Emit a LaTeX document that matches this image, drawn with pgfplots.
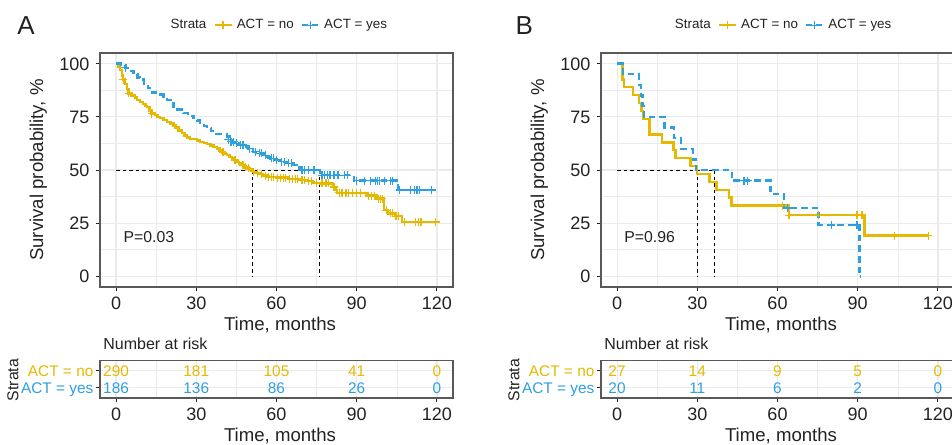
\documentclass[border=0pt]{standalone}
\usepackage{fontspec}
\setmainfont{Liberation Sans}
\usepackage{pgfplots}
\pgfplotsset{compat=1.18}

\definecolor{actno}{HTML}{E7B800}
\definecolor{actyes}{HTML}{2E9FDF}
\definecolor{gridc}{HTML}{EBEBEB}
\definecolor{framec}{HTML}{595959}
\definecolor{txtc}{HTML}{222222}

\pgfplotsset{
  kmbase/.style={
    scale only axis, width=176.5pt,
    xmin=-6, xmax=126, xtick={0,30,...,120}, minor xtick={15,45,75,105},
    grid=both,
    major grid style={gridc, line width=0.55pt},
    minor grid style={gridc, line width=0.3pt},
    axis line style={framec, line width=0.6pt},
    tick align=outside, tick pos=left,
    major tick length=2.2pt, minor tick length=0pt,
    tick style={txtc, line width=0.5pt},
    /pgf/number format/assume math mode=true,
    ticklabel style={font=\fontsize{9}{10}\selectfont, text=txtc, inner sep=0pt},
    xticklabel style={anchor=base, yshift=-9pt},
    label style={font=\fontsize{9.3}{11}\selectfont, text=txtc},
    xlabel={Time, months},
    every axis title shift=0pt,
  },
  km/.style={
    kmbase, height=117pt,
    ymin=-5, ymax=105, ytick={0,25,...,100}, minor ytick={12.5,37.5,62.5,87.5},
    yticklabel style={anchor=base east, xshift=-2.9pt, yshift=-3.2pt},
    ylabel={Survival probability, \%},
    ylabel style={at={(axis description cs:-0.1748,0.5)}, anchor=center},
    xlabel style={at={(axis description cs:0.51,-0.1624)}, anchor=center},
    legend style={draw=none, fill=none, anchor=west, inner sep=0pt,
      font=\fontsize{6.7}{8}\selectfont, text=txtc,
      /tikz/every even column/.append style={column sep=1.5pt}},
    legend columns=-1, legend cell align=left,
  },
  risk/.style={
    kmbase, height=18.65pt,
    ymin=0.4, ymax=2.6, ytick={1,2}, minor ytick={},
    yticklabels={\textcolor{actyes}{ACT = yes}, \textcolor{actno}{ACT = no}},
    yticklabel style={anchor=base east, xshift=-0.9pt, yshift=-2.75pt,
      font=\fontsize{7.7}{9}\selectfont},
    ylabel={Strata},
    ylabel style={at={(axis description cs:-0.2465,0.48)}, anchor=center,
      font=\fontsize{7.9}{9}\selectfont},
    xlabel style={at={(axis description cs:0.51,-1.019)}, anchor=center},
    title={Number at risk},
    title style={at={(axis description cs:0,1)}, anchor=base west, inner sep=0pt,
      xshift=1.5pt, yshift=5.5pt, font=\fontsize{8}{9}\selectfont, text=txtc},
  },
  noline/.style={actno, line width=1.2pt, const plot, forget plot},
  yesline/.style={actyes, line width=1.2pt, dash pattern=on 3.3pt off 2pt, const plot, forget plot},
  nocens/.style={only marks, mark=+, actno, mark size=2pt, line width=0.6pt, forget plot},
  yescens/.style={only marks, mark=+, actyes, mark size=2pt, line width=0.6pt, forget plot},
  mline/.style={black, line width=0.45pt, dash pattern=on 1.8pt off 1.5pt, forget plot},
  keyline/.style={legend image code/.code={\draw[mark repeat=2, mark phase=2, ##1]
      plot coordinates {(0pt,0pt) (4.25pt,0pt) (8.5pt,0pt)};}},
  noleg/.style={keyline, actno, line width=1.2pt, mark=+, mark size=2pt, mark options={solid, line width=0.6pt}},
  yesleg/.style={keyline, actyes, line width=1.2pt, dash pattern=on 3pt off 2pt, mark=+, mark size=2pt, mark options={solid, line width=0.6pt}},
  rnum/.style={only marks, mark=*, mark size=0pt, mark options={draw=none, fill=none},
    forget plot, point meta=explicit symbolic, nodes near coords,
    nodes near coords style={anchor=base, yshift=-2.75pt, inner sep=0pt,
      font=\fontsize{7.7}{9}\selectfont, text=#1}},
}

\begin{document}
\begin{tikzpicture}
\useasboundingbox (0pt,0pt) rectangle (476pt,-222pt);
\node[font=\fontsize{13}{15}\selectfont, text=txtc] at (13pt,-12.75pt) {A};
\node[font=\fontsize{13}{15}\selectfont, text=txtc] at (262.2pt,-12.75pt) {B};

% ---------- panel A: survival curves ----------
\begin{axis}[km, at={(50pt,-143.5pt)}, anchor=south west,
  legend style={at={(axis description cs:0.1876,1.119)}}]
\addlegendimage{empty legend}\addlegendentry{Strata\hspace{4pt}}
\addlegendimage{noleg}\addlegendentry{ACT = no}
\addlegendimage{yesleg}\addlegendentry{ACT = yes}
\addplot[mline] coordinates {(0,50) (76,50)};
\addplot[mline] coordinates {(51.1,50) (51.1,0)};
\addplot[mline] coordinates {(76,50) (76,0)};
\addplot[noline] coordinates {
  (0,100) (0.8,98.6) (1.5,97) (2.2,94.5) (2.7,92.5) (3.4,90.5) (4.2,88) (4.7,86)
  (5.8,85) (7,84) (7.8,83) (9,82) (10,81) (11,80) (11.6,79.5) (12.5,78) (13.2,76.5)
  (14.5,75.8) (15.5,75) (16.5,74.4) (17.8,73.5) (19,72.6) (20.3,71.8) (21.5,71)
  (22.3,70) (23.4,68.6) (24.6,67.3) (25.6,66.2) (26.6,65.3) (27.7,64.5) (30.2,63.8)
  (31.5,63.3) (32.8,62.7) (34,62.1) (35.3,61.5) (36.5,60.8) (37.7,60.2) (38.7,59.2)
  (39.6,58.3) (40.5,57.6) (41.4,57) (42.4,56.2) (43.3,55.4) (44.2,54.7) (45.1,53.9)
  (46,53.1) (47,52.3) (48,51.5) (48.9,50.8) (50.2,50.2) (51.1,49.2) (52.5,48.6)
  (54,48) (55,47.4) (56.3,46.8) (60,46.4) (64.5,45.9) (68.8,45.3) (71,44.7)
  (73.7,44) (76.2,43.7) (81.2,42) (82,40.5) (82.6,39.3) (93.7,38) (97.4,36.6)
  (100.1,31.1) (101.7,29.6) (104.2,28.3) (106.9,25.6) (119.5,25.6)};
\addplot[nocens] coordinates {
  (2.7,92.5) (4.7,86) (13.4,76.5) (40,58.3) (44.5,54.7) (47.5,52.3) (48.5,51.5)
  (49.5,50.8) (51.5,49.2) (53,48.6) (54.5,48) (56,47.4) (57,46.8) (58,46.8) (59,46.8)
  (60.5,46.4) (61.5,46.4) (62.5,46.4) (63.5,46.4) (65,45.9) (66,45.9) (67,45.9)
  (68,45.9) (69.5,45.3) (70.5,45.3) (72,44.7) (73,44.7) (75,44) (77,43.7) (78.5,43.7)
  (79.5,43.7) (81.5,42) (83.5,39.3) (84.5,39.3) (86,39.3) (87,39.3) (88.5,39.3)
  (90,39.3) (91.5,39.3) (94.5,38) (95.5,38) (96.5,38) (98,36.6) (98.8,36.6)
  (99.5,36.6) (101,31.1) (102.5,29.6) (103.5,29.6) (104.7,28.3) (105.5,28.3)
  (108,25.6) (112,25.6) (113,25.6) (114,25.6) (119.5,25.6)};
\addplot[yesline] coordinates {
  (0,100) (1.8,99.3) (3.5,98) (5,96.5) (6.5,95) (8,93.5) (9,92.5) (10.5,90.5)
  (12,88.5) (13.4,86.5) (15,85.5) (17.8,84.6) (19,83) (20.3,81.5) (21.5,79.9)
  (23,78.5) (25.2,76.7) (27,75.5) (29,74.4) (30.3,73.2) (31.5,72) (32.8,70.8)
  (34,69.7) (35.5,68.2) (37,66.8) (41.4,65.7) (42.5,64.2) (43.5,63.3) (44.5,62.6)
  (46,61.8) (48.2,61) (49.5,60) (51.3,58.6) (53,57.8) (55.1,57) (56.5,56.2)
  (57.6,55.5) (59.5,54.7) (61.3,53.9) (63.5,53.2) (66.3,52.4) (67.5,51.2)
  (68.8,50) (76.2,47.6) (88.9,45) (105.5,40.6) (118.5,40.6)};
\addplot[yescens] coordinates {
  (3.5,98) (42,64.2) (43,63.3) (44,63.3) (45,62.6) (46.5,61.8) (47.5,61.8) (50,60)
  (52,58.6) (53.5,57.8) (54.5,57.8) (56,57) (58,55.5) (59,55.5) (60,54.7) (62,53.9)
  (63,53.9) (64.5,53.2) (65.5,53.2) (69.5,50) (70.5,50) (72,50) (74,50) (77,47.6)
  (78,47.6) (79,47.6) (80,47.6) (81.5,47.6) (83,47.6) (85.5,47.6) (86.5,47.6)
  (90,45) (93,45) (95,45) (97,45) (97.8,45) (98.5,45) (100.5,45) (102.5,45)
  (103.5,45) (106,40.6) (110,40.6) (111.5,40.6) (112.5,40.6) (113.5,40.6) (118,40.6)};
\node[anchor=west, inner sep=0pt, font=\fontsize{7.9}{9}\selectfont, text=txtc]
  at (axis cs:2.7,18.4) {P=0.03};
\end{axis}

% ---------- panel A: number at risk ----------
\begin{axis}[risk, at={(50pt,-199pt)}, anchor=south west]
\addplot[rnum=actno] coordinates {(0,2)[290] (30,2)[181] (60,2)[105] (90,2)[41] (120,2)[0]};
\addplot[rnum=actyes] coordinates {(0,1)[186] (30,1)[136] (60,1)[86] (90,1)[26] (120,1)[0]};
\end{axis}

% ---------- panel B: survival curves ----------
\begin{axis}[km, at={(300.5pt,-143.5pt)}, anchor=south west,
  legend style={at={(axis description cs:0.197,1.119)}}]
\addlegendimage{empty legend}\addlegendentry{Strata\hspace{3pt}}
\addlegendimage{noleg}\addlegendentry{ACT = no}
\addlegendimage{yesleg}\addlegendentry{ACT = yes}
\addplot[mline] coordinates {(0,50) (36.4,50)};
\addplot[mline] coordinates {(30,50) (30,0)};
\addplot[mline] coordinates {(36.4,50) (36.4,0)};
\addplot[noline] coordinates {
  (0,100) (2,92.6) (2.6,88.9) (6,85.2) (8.2,81.5) (9.1,77.8) (9.7,74.1) (12.2,66.7)
  (16.7,63) (21.1,59.3) (21.8,55.6) (27.4,51.9) (30,48.1) (34.5,44.4) (37.2,40.7)
  (41.9,37) (42.8,33.3) (64.3,28.8) (92.6,19.2) (116.4,19.2)};
\addplot[nocens] coordinates {
  (61.8,33.3) (64.3,28.8) (75.4,28.8) (89.7,28.8) (91.6,28.8) (103.7,19.2) (116.4,19.2)};
\addplot[yesline] coordinates {
  (0,100) (2.2,95) (8.2,90) (9,85) (9.5,80) (10,75) (17.7,70) (21.2,65) (24,60)
  (28.3,55) (29.5,50) (42.9,45) (57.4,38.6) (62.4,32.1) (75.4,24.1) (90.6,0) (91,0)};
\addplot[yescens] coordinates {
  (47.5,45) (48.8,45) (63.6,32.1) (80.1,24.1) (89.7,24.1)};
\node[anchor=west, inner sep=0pt, font=\fontsize{7.9}{9}\selectfont, text=txtc]
  at (axis cs:2.6,18.5) {P=0.96};
\end{axis}

% ---------- panel B: number at risk ----------
\begin{axis}[risk, at={(300.5pt,-199pt)}, anchor=south west]
\addplot[rnum=actno] coordinates {(0,2)[27] (30,2)[14] (60,2)[9] (90,2)[5] (120,2)[0]};
\addplot[rnum=actyes] coordinates {(0,1)[20] (30,1)[11] (60,1)[6] (90,1)[2] (120,1)[0]};
\end{axis}
\end{tikzpicture}
\end{document}
